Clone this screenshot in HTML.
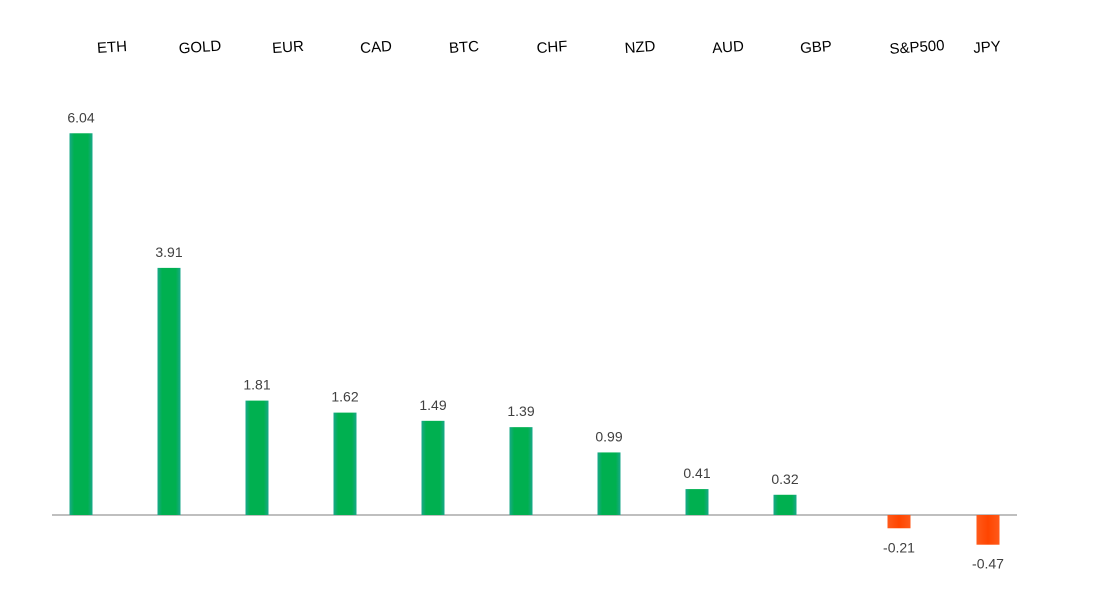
<!DOCTYPE html>
<html><head><meta charset="utf-8"><style>
body{margin:0;background:#fff;}
svg{display:block;font-family:"Liberation Sans",sans-serif;}
</style></head><body>
<svg id="chart" width="1100" height="597" viewBox="0 0 1100 597">
<defs>
<linearGradient id="gpos" x1="0" x2="1"><stop offset="0" stop-color="#1aa88a"/><stop offset="0.2" stop-color="#00b050"/><stop offset="0.8" stop-color="#00b050"/><stop offset="1" stop-color="#1aa88a"/></linearGradient>
<linearGradient id="gneg" x1="0" x2="1"><stop offset="0" stop-color="#ff5a1a"/><stop offset="0.5" stop-color="#ff4500"/><stop offset="1" stop-color="#ff5a1a"/></linearGradient>
</defs>
<line x1="52" y1="515" x2="1017" y2="515" stroke="#bfbfbf" stroke-width="2"/>
<g id="bars"></g>
</svg>
<script>
const categories = ["ETH","GOLD","EUR","CAD","BTC","CHF","NZD","AUD","GBP","S&P500","JPY"];
const values = [6.04,3.91,1.81,1.62,1.49,1.39,0.99,0.41,0.32,-0.21,-0.47];
const valueLabels = ["6.04","3.91","1.81","1.62","1.49","1.39","0.99","0.41","0.32","-0.21","-0.47"];

const ns="http://www.w3.org/2000/svg";
const g=document.getElementById("bars");
const baseY=515, pxPerUnit=63.2, barW=23;
function xPos(i){return 81+i*88+(i>=9?(i===9?26:27):0);}
function yPos(v){return baseY - v*pxPerUnit;}
function labelX(i){return xPos(i)+(i<9?31:(i===9?18:-1));}
categories.forEach((c,i)=>{
  const v=values[i], cx=xPos(i);
  const y0=Math.min(yPos(v),baseY), h=Math.abs(yPos(v)-baseY);
  const r=document.createElementNS(ns,"rect");
  
  
  r.setAttribute("x",cx-barW/2);r.setAttribute("y",y0);
  r.setAttribute("width",barW);r.setAttribute("height",h);
  r.setAttribute("fill",v>=0?"url(#gpos)":"url(#gneg)");
  g.appendChild(r);
  const t=document.createElementNS(ns,"text");
  
  
  t.setAttribute("x",cx);
  t.setAttribute("y",v>=0?yPos(v)-11:baseY+h+24);
  t.setAttribute("text-anchor","middle");t.setAttribute("font-size","14");t.setAttribute("fill","#404040");
  t.textContent=valueLabels[i];g.appendChild(t);
  const l=document.createElementNS(ns,"text");
  
  
  const lx=labelX(i);
  l.setAttribute("x",lx);l.setAttribute("y",52);
  l.setAttribute("text-anchor","middle");l.setAttribute("font-size","15");l.setAttribute("fill","#000");
  l.setAttribute("transform","rotate(-4 "+lx+" 47)");
  l.textContent=c;g.appendChild(l);
});
</script>
</body></html>
